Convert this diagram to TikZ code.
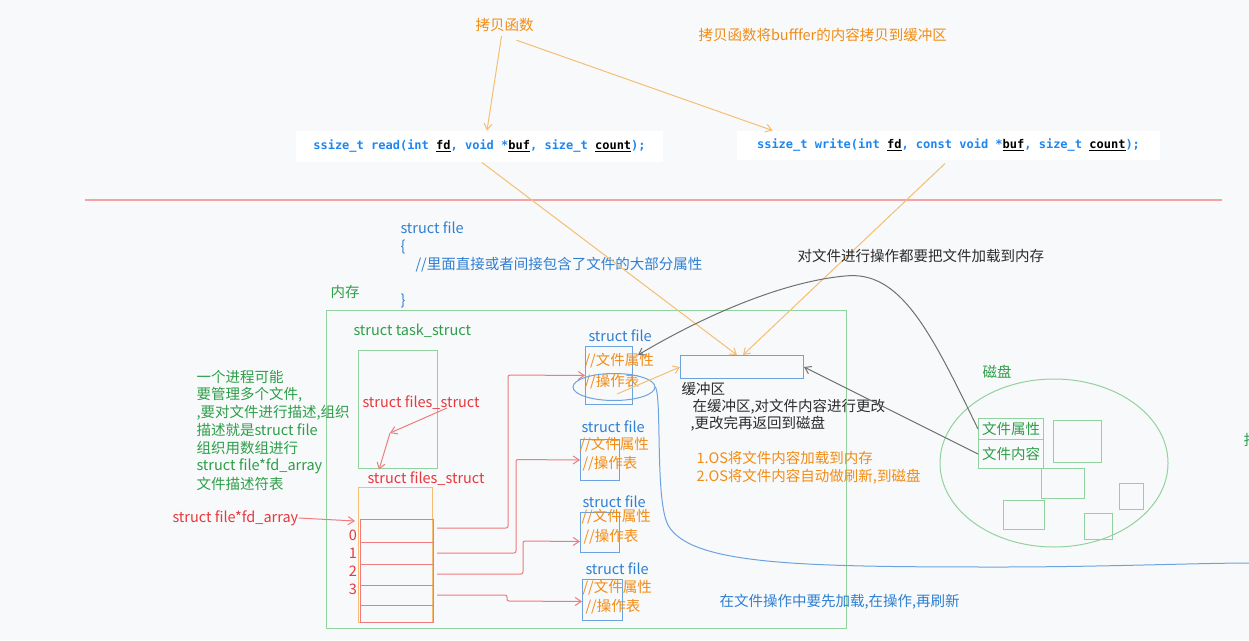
\documentclass[tikz,border=0pt]{standalone}
\usepackage{fontspec}
\setmainfont{Noto Sans CJK SC}
\setmonofont{DejaVu Sans Mono}
\usetikzlibrary{arrows.meta,shapes.geometric}
\definecolor{bg}{HTML}{F8F9FB}
\definecolor{gtxt}{HTML}{2E9E48}
\definecolor{gline}{HTML}{92D29E}
\definecolor{rtxt}{HTML}{E8373D}
\definecolor{rline}{HTML}{EE7C7E}
\definecolor{btxt}{HTML}{2F7FD1}
\definecolor{bline}{HTML}{6CA3DE}
\definecolor{otxt}{HTML}{F28C14}
\definecolor{oline}{HTML}{F6BE72}
\definecolor{dline}{HTML}{707070}
\definecolor{ktxt}{HTML}{2B2B2B}
\definecolor{codec}{HTML}{1C86F2}
\newcommand\ulw[1]{{\color{black}\underline{#1}}}
\begin{document}
\begin{tikzpicture}[x=1pt,y=-1pt,line width=1pt,
  font=\fontsize{14.5}{17}\selectfont,
  >={Straight Barb[length=6pt,width=8pt]},
  t/.style={inner sep=0pt,anchor=west},
  codebox/.style={fill=white,inner sep=0pt,font=\ttfamily\bfseries\fontsize{12}{14}\selectfont,text=codec},
  box/.style={inner sep=0pt,anchor=north west},
]
\fill[bg] (0,0) rectangle (1249,640);
\useasboundingbox (0,0) rectangle (1249,640);

% top part
\node[t,text=otxt] (copyfn) at (475,25) {拷贝函数};
\node[t,text=otxt] (copynote) at (698,35) {拷贝函数将bufffer的内容拷贝到缓冲区};
\node[codebox,minimum width=367pt,minimum height=31pt] (read) at (479.5,146.5)
  {ssize\_t read(int \ulw{fd}, void *\ulw{buf}, size\_t \ulw{count});};
\node[codebox,minimum width=423pt,minimum height=29pt] (write) at (948.5,145.5)
  {ssize\_t write(int \ulw{fd}, const void *\ulw{buf}, size\_t \ulw{count});};
\draw[oline,->] ([xshift=-3pt,yshift=-4pt]copyfn.south) -- ([xshift=7.5pt]read.north);
\draw[oline,->] ([xshift=12pt,yshift=-8pt]copyfn.south) -- ([xshift=-176pt]write.north);

\coordinate (sepL) at (85,200);
\coordinate (sepR) at (1222,200);
\draw[rline!70,line width=1.4pt] (sepL) -- (sepR);

% struct file text
\node[t,text=btxt] (sf1) at (400,228) {struct file};
\node[t,text=btxt] (sf2) at (400,247) {\{};
\node[t,text=btxt] (sf3) at (415,265) {//里面直接或者间接包含了文件的大部分属性};
\node[t,text=btxt] (sf4) at (400,301) {\}};

% memory
\node[t,text=gtxt] (memlbl) at (330,292) {内存};
\node[box,draw=gline,minimum width=520pt,minimum height=318pt] (mem) at (326,310) {};
\node[t,text=gtxt] (tslbl) at (353,331) {struct task\_struct};
\node[box,draw=gline,minimum width=79pt,minimum height=118pt] (ts) at (358,350) {};
\node[t,text=rtxt] (fsin) at (362,403) {struct files\_struct};
\coordinate (fsA) at (447,408);
\coordinate (fsB) at (390,433);
\node[t,text=rtxt] (fslbl) at (367,479) {struct files\_struct};
\draw[rline,->] (fsA) -- (fsB);
\draw[rline,->] (fsB) -- ([xshift=-1pt,yshift=2pt]fslbl.north west -| 380,0);

% fd array
\node[box,draw=oline,minimum width=74pt,minimum height=135pt] (arr) at (358,487) {};
\node[box,draw=rline,minimum width=73pt,minimum height=103pt] (slots) at (360,519) {};
\draw[rline] (360,542) -- (433,542);
\draw[rline] (360,564) -- (433,564);
\draw[rline] (360,585) -- (433,585);
\draw[rline] (360,605) -- (433,605);
\node[text=rtxt,inner sep=0pt] (d0) at (353,535) {0};
\node[text=rtxt,inner sep=0pt] (d1) at (353,553) {1};
\node[text=rtxt,inner sep=0pt] (d2) at (353,571) {2};
\node[text=rtxt,inner sep=0pt] (d3) at (353,589) {3};
\node[t,text=rtxt] (fdl) at (172,518) {struct file*fd\_array};
\draw[rline,->] (fdl.east) -- ([xshift=-5pt,yshift=-2pt]slots.north west);

% left green notes
\node[t,text=gtxt] (n1) at (196,377) {一个进程可能};
\node[t,text=gtxt] (n2) at (196,395) {要管理多个文件,};
\node[t,text=gtxt] (n3) at (196,413) {,要对文件进行描述,组织};
\node[t,text=gtxt] (n4) at (196,430) {描述就是struct file};
\node[t,text=gtxt] (n5) at (196,448) {组织用数组进行};
\node[t,text=gtxt] (n6) at (196,466) {struct file*fd\_array};
\node[t,text=gtxt] (n7) at (196,484) {文件描述符表};

% struct file boxes
\node[box,draw=bline,minimum width=47pt,minimum height=58pt] (sfb1) at (585,346) {};
\node[t,text=btxt] (sfl1) at (588,336) {struct file};
\node[t,text=otxt] (a1) at (584,361) {//文件属性};
\node[t,text=otxt] (o1) at (584,382) {//操作表};

\node[box,draw=bline,minimum width=39pt,minimum height=41pt] (sfb2) at (580,439) {};
\node[t,text=btxt] (sfl2) at (581,427) {struct file};
\node[t,text=otxt] (a2) at (579,445) {//文件属性};
\node[t,text=otxt] (o2) at (582,464) {//操作表};

\node[box,draw=bline,minimum width=39pt,minimum height=40pt] (sfb3) at (580,512) {};
\node[t,text=btxt] (sfl3) at (582,502) {struct file};
\node[t,text=otxt] (a3) at (581,517) {//文件属性};
\node[t,text=otxt] (o3) at (583,537) {//操作表};

\node[box,draw=bline,minimum width=40pt,minimum height=41pt] (sfb4) at (582,579) {};
\node[t,text=btxt] (sfl4) at (585,569) {struct file};
\node[t,text=otxt] (a4) at (582,588) {//文件属性};
\node[t,text=otxt] (o4) at (585,607) {//操作表};

% row connectors
\coordinate (r0) at (437,528);
\coordinate (r1) at (437,553);
\coordinate (r2) at (437,574);
\coordinate (r3) at (437,595);
\draw[rline,->,rounded corners=2pt] (r0) -| (508,375) -- (sfb1.west);
\draw[rline,->,rounded corners=2pt] (r1) -| (516,459.5) -- (sfb2.west);
\draw[rline,->,rounded corners=2pt] (r2) -| (523,541) -- ([yshift=-9pt]sfb3.west);
\draw[rline,->,rounded corners=2pt] (r3) -| (507,601) -- ([yshift=-1.5pt]sfb4.west);

% buffer
\node[box,draw=bline,minimum width=123pt,minimum height=23pt] (buf) at (680,355) {};
\node[t,text=ktxt] (buflbl) at (681,389) {缓冲区};
\node[t,text=ktxt] (b1) at (692,407) {在缓冲区,对文件内容进行更改};
\node[t,text=ktxt] (b2) at (690,424) {,更改完再返回到磁盘};
\node[t,text=otxt] (os1) at (696,458) {1.OS将文件内容加载到内存};
\node[t,text=otxt] (os2) at (696,477) {2.OS将文件内容自动做刷新,到磁盘};
\node[t,text=btxt] (flow) at (719,602) {在文件操作中要先加载,在操作,再刷新};
\draw[oline,->] ([xshift=2.5pt]read.south) -- ([xshift=-5pt]buf.north);
\draw[oline,->] ([xshift=-3.5pt,yshift=-3pt]write.south) -- ([xshift=1pt]buf.north);

% ellipse around ops table
\node[draw=bline,ellipse,minimum width=82pt,minimum height=27pt,inner sep=0pt] (ops) at (614,387) {};
\draw[oline,->] ([xshift=3pt,yshift=-7pt]ops.center) -- (buf.west);
\coordinate (blueEnd) at (1250,563);
\draw[bline] (ops.east) .. controls (662,400) and (655,500) .. (668,525)
  .. controls (690,565) and (800,567) .. (1000,567)
  .. controls (1100,567) and (1200,563) .. (blueEnd);

% disk
\node[t,text=ktxt] (loadnote) at (797,256) {对文件进行操作都要把文件加载到内存};
\node[t,text=gtxt] (disklbl) at (982,372) {磁盘};
\node[draw=gline,ellipse,minimum width=228pt,minimum height=168pt,inner sep=0pt] (disk) at (1054,463) {};
\node[box,draw=gline,minimum width=65pt,minimum height=21pt] (attr) at (978,418) {};
\node[text=gtxt,inner sep=0pt] (attrt) at (attr.center) {文件属性};
\node[box,draw=gline,minimum width=65pt,minimum height=29pt] (cont) at (978,439) {};
\node[text=gtxt,inner sep=0pt] (contt) at (cont.center) {文件内容};
\node[box,draw=gline,minimum width=48pt,minimum height=42pt] (q1) at (1053,420) {};
\node[box,draw=gline,minimum width=43pt,minimum height=30pt] (q2) at (1041,468) {};
\node[box,draw=gline,minimum width=24pt,minimum height=26pt] (q3) at (1119,483) {};
\node[box,draw=gline,minimum width=41pt,minimum height=29pt] (q4) at (1003,500) {};
\node[box,draw=gline,minimum width=28pt,minimum height=26pt] (q5) at (1084,513) {};
\node[t,text=gtxt] (cut) at (1243,440) {打};

\draw[dline,->] (attr.west) .. controls (930,330) and (900,270) .. (845,276)
  .. controls (780,282) and (700,318) .. ([xshift=5pt,yshift=-9pt]sfb1.north east);
\draw[dline,->] (cont.west) -- (buf.east);
\end{tikzpicture}
\end{document}
